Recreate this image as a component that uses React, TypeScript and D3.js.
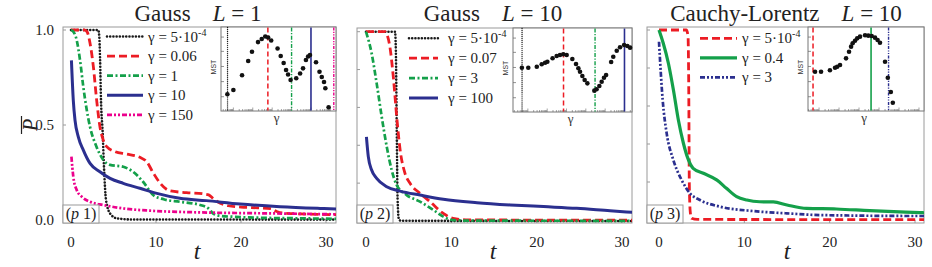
import React from "react";
import * as d3 from "d3";

type Pt = [number, number];

// ---------------- Panel 1: Gauss, L = 1 ----------------
const p1Title = "Gauss";
const p1L = "1";
const p1Legend = ["γ = 5·10", "γ = 0.06", "γ = 1", "γ = 10", "γ = 150"];
const p1LegendSup = ["-4", "", "", "", ""];
const p1GammaLines = [5e-4, 0.06, 1, 10, 150];
const p1Styles = ["dotBlack", "dashRed", "dashdotGreen", "solidBlue", "dddMagenta"];
const p1Black: Pt[] = [[0, 1], [3.2, 1], [3.32, 0.97], [3.42, 0.85], [3.53, 0.63], [3.73, 0.456], [3.88, 0.28], [4.12, 0.105], [4.59, 0.035], [5.37, 0.009], [7, 0.003], [31.2, 0.002]];
const p1Red: Pt[] = [[0, 1], [1.6, 1], [1.9, 0.99], [2.24, 0.93], [2.63, 0.807], [3.02, 0.63], [3.41, 0.49], [3.8, 0.42], [4.2, 0.386], [5.18, 0.36], [6.55, 0.347], [8.1, 0.33], [8.9, 0.307], [9.7, 0.246], [10.5, 0.193], [11.6, 0.154], [13.6, 0.144], [15.5, 0.138], [16.2, 0.132], [16.8, 0.11], [17.5, 0.09], [18.5, 0.075], [20, 0.068], [22, 0.064], [23.5, 0.06], [24.2, 0.045], [25, 0.036], [27, 0.032], [31.2, 0.028]];
const p1Green: Pt[] = [[0, 1], [0.3, 0.99], [0.67, 0.947], [1.06, 0.842], [1.45, 0.7], [1.85, 0.58], [2.24, 0.49], [3.0, 0.386], [3.8, 0.316], [4.6, 0.29], [6.15, 0.28], [7.3, 0.254], [8.5, 0.2], [9.7, 0.13], [10.9, 0.109], [12.8, 0.096], [15.2, 0.079], [16.2, 0.06], [16.7, 0.035], [17.5, 0.022], [19.1, 0.017], [22, 0.012], [26.9, 0.009], [31.2, 0.006]];
const p1Blue: Pt[] = [[0.05, 0.84], [0.27, 0.63], [0.47, 0.526], [0.86, 0.438], [1.45, 0.368], [2.24, 0.298], [3.4, 0.254], [4.6, 0.219], [6.15, 0.193], [8.1, 0.167], [10.1, 0.14], [12.8, 0.114], [15.9, 0.102], [19.9, 0.084], [24.6, 0.07], [29.3, 0.061], [31.2, 0.058]];
const p1Magenta: Pt[] = [[0.05, 0.333], [0.27, 0.228], [0.67, 0.158], [1.26, 0.123], [2.24, 0.096], [3.8, 0.079], [6.15, 0.061], [9.3, 0.049], [15.2, 0.04], [23, 0.035], [31.2, 0.03]];
const p1InsetGamma = [4.9e-4, 1e-3, 2.8e-3, 5.8e-3, 9.1e-3, 0.0186, 0.029, 0.044, 0.062, 0.089, 0.19, 0.275, 0.39, 0.52, 0.66, 0.89, 1.74, 2.75, 3.9, 5.5, 7.1, 8.9, 18.2, 27.5, 36, 47, 55, 81];
const p1InsetMST = [0.2, 0.25, 0.425, 0.595, 0.706, 0.82, 0.857, 0.887, 0.875, 0.84, 0.744, 0.655, 0.571, 0.488, 0.435, 0.369, 0.39, 0.446, 0.508, 0.607, 0.649, 0.667, 0.58, 0.468, 0.405, 0.345, 0.27, 0.044];

// ---------------- Panel 2: Gauss, L = 10 ----------------
const p2Title = "Gauss";
const p2L = "10";
const p2Legend = ["γ = 5·10", "γ = 0.07", "γ = 3", "γ = 100"];
const p2LegendSup = ["-4", "", "", ""];
const p2GammaLines = [5e-4, 0.07, 3, 100];
const p2Styles = ["dotBlack", "dashRed", "dashdotGreen", "solidBlue"];
const p2Black: Pt[] = [[0, 1], [3.4, 1], [3.5, 0.9], [3.6, 0.5], [3.7, 0.12], [3.85, 0.01], [4.1, 0.001], [31.2, 0]];
const p2Red: Pt[] = [[0, 1], [2.2, 1], [2.5, 0.98], [2.8, 0.92], [3.2, 0.762], [3.6, 0.55], [4.0, 0.375], [4.57, 0.252], [5.16, 0.199], [6.33, 0.146], [7.5, 0.102], [9.06, 0.04], [10.2, 0.014], [12, 0.006], [31.2, 0.004]];
const p2Green: Pt[] = [[0, 1], [0.66, 0.886], [1.25, 0.727], [1.84, 0.551], [2.43, 0.393], [3.01, 0.269], [3.6, 0.19], [4.77, 0.137], [6.33, 0.102], [7.9, 0.058], [9.06, 0.023], [10.2, 0.005], [12, 0.002], [31.2, 0.001]];
const p2Blue: Pt[] = [[0.05, 0.445], [0.27, 0.34], [0.66, 0.269], [1.25, 0.225], [2.43, 0.181], [4.0, 0.158], [6.33, 0.137], [9.06, 0.115], [13, 0.097], [16.9, 0.085], [20.8, 0.076], [24.7, 0.067], [28.6, 0.054], [31.2, 0.046]];
const p2InsetGamma = [4.9e-4, 1.05e-3, 2.9e-3, 5.2e-3, 7.8e-3, 0.0102, 0.019, 0.031, 0.046, 0.068, 0.102, 0.2, 0.31, 0.41, 0.5, 0.66, 0.87, 1.2, 2.75, 3.6, 5.0, 6.6, 8.7, 11.2, 20.4, 26.3, 39.8, 58.9, 95.5, 141, 195];
const p2InsetMST = [0.527, 0.527, 0.539, 0.568, 0.587, 0.599, 0.639, 0.667, 0.679, 0.687, 0.679, 0.631, 0.571, 0.52, 0.48, 0.429, 0.381, 0.341, 0.254, 0.27, 0.31, 0.361, 0.408, 0.44, 0.595, 0.658, 0.73, 0.77, 0.798, 0.786, 0.766];

// ---------------- Panel 3: Cauchy-Lorentz, L = 10 ----------------
const p3Title = "Cauchy-Lorentz";
const p3L = "10";
const p3Legend = ["γ = 5·10", "γ = 0.4", "γ = 3"];
const p3LegendSup = ["-4", "", ""];
const p3GammaLines = [5e-4, 0.4, 3];
const p3Styles = ["dashRed", "solidGreen", "dddBlue"];
const p3Red: Pt[] = [[0, 1], [3.2, 1], [3.4, 0.97], [3.5, 0.6], [3.55, 0.2], [3.65, 0.05], [3.8, 0.009], [4.5, 0.003], [31.2, 0.002]];
const p3Green: Pt[] = [[0, 1], [0.5, 0.93], [1.1, 0.825], [1.69, 0.684], [2.27, 0.526], [2.86, 0.404], [3.45, 0.316], [4.0, 0.272], [5.2, 0.246], [6.8, 0.21], [7.9, 0.167], [9.1, 0.123], [10.3, 0.105], [11.8, 0.096], [13.4, 0.095], [15, 0.079], [17.3, 0.061], [20.8, 0.058], [24.7, 0.049], [30.6, 0.039], [31.2, 0.038]];
const p3Blue: Pt[] = [[0, 0.938], [0.43, 0.632], [0.9, 0.456], [1.68, 0.316], [2.66, 0.21], [3.63, 0.14], [4.8, 0.105], [7.15, 0.07], [11.06, 0.047], [14.97, 0.035], [18.9, 0.026], [30.6, 0.021], [31.2, 0.021]];
const p3InsetGamma = [6.3e-4, 1.26e-3, 3.5e-3, 6.3e-3, 8.1e-3, 0.0112, 0.0224, 0.0316, 0.04, 0.048, 0.063, 0.081, 0.112, 0.2, 0.29, 0.43, 0.63, 0.85, 1.12, 2.0, 2.75, 3.9, 4.9];
const p3InsetMST = [0.468, 0.468, 0.485, 0.515, 0.527, 0.548, 0.627, 0.706, 0.766, 0.806, 0.837, 0.865, 0.885, 0.901, 0.897, 0.893, 0.873, 0.845, 0.813, 0.587, 0.396, 0.226, 0.099];

const xTicks = [0, 10, 20, 30];
const yTickLabels = ["0.0", "0.5", "1.0"];
const yTickValues = [0, 0.5, 1];
const yMinorTicks = [0, 0.2, 0.4, 0.6, 0.8, 1];

// ---------------- styling ----------------
const SERIF = "'Liberation Serif', 'Tinos', 'Times New Roman', 'DejaVu Serif', serif";
const SANS = "'Liberation Sans', Arial, sans-serif";

type Sty = { color: string; dash: string; width: number; cap: "round" | "butt"; idash: string; iwidth: number };
const STYLES: Record<string, Sty> = {
  dotBlack: { color: "#1a1a1a", dash: "0.01 3.2", width: 2.6, cap: "round", idash: "0.01 2", iwidth: 1.4 },
  dashRed: { color: "#ec1c24", dash: "8 4", width: 2.8, cap: "butt", idash: "5 3", iwidth: 1.5 },
  dashdotGreen: { color: "#14a04a", dash: "6 2.5 2 2.5", width: 2.7, cap: "butt", idash: "4 1.5 1.2 1.5", iwidth: 1.4 },
  solidBlue: { color: "#2b2f8f", dash: "", width: 3, cap: "butt", idash: "", iwidth: 1.6 },
  dddMagenta: { color: "#ec008c", dash: "5 2 2 2 2 2", width: 2.7, cap: "butt", idash: "3 1.3 1.2 1.3 1.2 1.3", iwidth: 1.4 },
  solidGreen: { color: "#14a04a", dash: "", width: 3.2, cap: "butt", idash: "", iwidth: 1.6 },
  dddBlue: { color: "#2b2f8f", dash: "5 2 2 2 2 2", width: 2.7, cap: "butt", idash: "3 1.3 1.2 1.3 1.2 1.3", iwidth: 1.4 },
};

type Box = { left: number; right: number; top: number; bottom: number };
type PanelCfg = {
  id: number;
  frame: Box;
  y1px: number;
  y0px: number;
  xZeroPx: number;
  xThirtyPx: number;
  inset: Box & { g0: number; g1: number };
  legend: { lx1: number; lx2: number; tx: number; y0: number; dy: number };
  titleCx: number;
  title: string;
  L: string;
  labels: string[];
  sups: string[];
  styles: string[];
  series: Pt[][];
  gammaLines: number[];
  insetG: number[];
  insetM: number[];
  showY: boolean;
  tLabelX: number;
};

const panels: PanelCfg[] = [
  {
    id: 1, frame: { left: 63, right: 336, top: 27, bottom: 223 }, y1px: 30, y0px: 220, xZeroPx: 71, xThirtyPx: 326,
    inset: { left: 221, right: 336, top: 27, bottom: 111, g0: 2.3e-4, g1: 195 },
    legend: { lx1: 107, lx2: 143, tx: 148, y0: 36.5, dy: 19.6 }, titleCx: 198,
    title: p1Title, L: p1L, labels: p1Legend, sups: p1LegendSup, styles: p1Styles,
    series: [p1Black, p1Red, p1Green, p1Blue, p1Magenta], gammaLines: p1GammaLines,
    insetG: p1InsetGamma, insetM: p1InsetMST, showY: true, tLabelX: 197,
  },
  {
    id: 2, frame: { left: 357, right: 632, top: 28, bottom: 223 }, y1px: 31.7, y0px: 221, xZeroPx: 366, xThirtyPx: 622,
    inset: { left: 513, right: 632, top: 28, bottom: 112, g0: 1.7e-4, g1: 245 },
    legend: { lx1: 409, lx2: 438, tx: 448, y0: 38.3, dy: 19.9 }, titleCx: 493,
    title: p2Title, L: p2L, labels: p2Legend, sups: p2LegendSup, styles: p2Styles,
    series: [p2Black, p2Red, p2Green, p2Blue], gammaLines: p2GammaLines,
    insetG: p2InsetGamma, insetM: p2InsetMST, showY: false, tLabelX: 493,
  },
  {
    id: 3, frame: { left: 647, right: 924, top: 27, bottom: 223 }, y1px: 30, y0px: 220, xZeroPx: 659, xThirtyPx: 915,
    inset: { left: 808, right: 924, top: 27, bottom: 111, g0: 2.8e-4, g1: 178 },
    legend: { lx1: 700, lx2: 737, tx: 742, y0: 38.3, dy: 19.5 }, titleCx: 786,
    title: p3Title, L: p3L, labels: p3Legend, sups: p3LegendSup, styles: p3Styles,
    series: [p3Red, p3Green, p3Blue], gammaLines: p3GammaLines,
    insetG: p3InsetGamma, insetM: p3InsetMST, showY: false, tLabelX: 787,
  },
];

function Panel({ c }: { c: PanelCfg }) {
  const f = c.frame;
  const x = d3.scaleLinear().domain([0, 30]).range([c.xZeroPx, c.xThirtyPx]);
  const y = d3.scaleLinear().domain([0, 1]).range([c.y0px, c.y1px]);
  const line = d3.line<Pt>().x((d) => x(d[0])).y((d) => y(d[1])).curve(d3.curveMonotoneX);
  const ins = c.inset;
  const gx = d3.scaleLog().domain([ins.g0, ins.g1]).range([ins.left, ins.right]);
  const my = d3.scaleLinear().domain([0, 1]).range([ins.bottom, ins.top]);
  const clipId = `clip${c.id}`;
  const logTicks: { v: number; major: boolean }[] = [];
  for (let k = -4; k <= 3; k++) {
    for (let m = 1; m <= 9; m++) {
      const v = m * Math.pow(10, k);
      if (v > ins.g0 && v < ins.g1) logTicks.push({ v, major: m === 1 });
    }
  }
  const mstTicks = [0.17, 0.35, 0.53, 0.71, 0.88];
  return (
    <g>
      <defs>
        <clipPath id={clipId}>
          <rect x={f.left} y={f.top} width={f.right - f.left} height={f.bottom - f.top} />
        </clipPath>
      </defs>
      {/* title */}
      <text x={c.titleCx} y={21} textAnchor="middle" fontFamily={SERIF} fontSize={23} fill="#222" style={{ whiteSpace: "pre" }}>
        <tspan>{c.title}</tspan>
        <tspan dx={22} fontStyle="italic">L</tspan>
        <tspan>{" = " + c.L}</tspan>
      </text>
      {/* frame */}
      <rect x={f.left} y={f.top} width={f.right - f.left} height={f.bottom - f.top} fill="#fff" stroke="#9a9a9a" strokeWidth={1} />
      {/* y ticks */}
      {(c.showY ? yTickValues : yMinorTicks).map((v) => (
        <line key={"yt" + v} x1={f.left} x2={f.left + 3} y1={y(v)} y2={y(v)} stroke="#9a9a9a" />
      ))}
      {c.showY &&
        yTickValues.map((v, i) => (
          <text key={"yl" + v} x={54} y={y(v) + 5} textAnchor="end" fontFamily={SERIF} fontSize={15} fill="#222">
            {yTickLabels[i]}
          </text>
        ))}
      {/* x ticks */}
      {xTicks.map((v) => (
        <g key={"xt" + v}>
          <line x1={x(v)} x2={x(v)} y1={f.bottom} y2={f.bottom - 3} stroke="#9a9a9a" />
          <text x={x(v)} y={247} textAnchor="middle" fontFamily={SERIF} fontSize={15} fill="#222">{v}</text>
        </g>
      ))}
      <text x={c.tLabelX} y={259} textAnchor="middle" fontFamily={SERIF} fontStyle="italic" fontSize={24} fill="#222">t</text>
      {/* curves */}
      <g clipPath={`url(#${clipId})`}>
        {c.series.map((s, i) => {
          const st = STYLES[c.styles[i]];
          return (
            <path key={"s" + i} d={line(s) || ""} fill="none" stroke={st.color} strokeWidth={st.width}
              strokeDasharray={st.dash || undefined} strokeLinecap={st.cap} strokeLinejoin="round" />
          );
        })}
      </g>
      {/* (p n) box */}
      <rect x={f.left} y={f.bottom - 18} width={36} height={18} fill="#fff" stroke="#9a9a9a" strokeWidth={1} />
      <text x={f.left + 18} y={f.bottom - 4} textAnchor="middle" fontFamily={SERIF} fontSize={16} fill="#222" style={{ whiteSpace: "pre" }}>
        <tspan>(</tspan><tspan fontStyle="italic">p</tspan><tspan>{" " + c.id + ")"}</tspan>
      </text>
      {/* legend */}
      {c.labels.map((lab, i) => {
        const st = STYLES[c.styles[i]];
        const ly = c.legend.y0 + i * c.legend.dy;
        return (
          <g key={"lg" + i}>
            <line x1={c.legend.lx1} x2={c.legend.lx2} y1={ly} y2={ly} stroke={st.color} strokeWidth={st.width}
              strokeDasharray={st.dash || undefined} strokeLinecap={st.cap} />
            <text x={c.legend.tx} y={ly + 5} fontFamily={SERIF} fontSize={15} fill="#222">
              <tspan>{lab}</tspan>
              {c.sups[i] && <tspan dy={-6} fontSize={10}>{c.sups[i]}</tspan>}
            </text>
          </g>
        );
      })}
      {/* inset */}
      <rect x={ins.left} y={ins.top} width={ins.right - ins.left} height={ins.bottom - ins.top} fill="#fff" stroke="#777" strokeWidth={1} />
      {logTicks.map((t, i) => (
        <line key={"lt" + i} x1={gx(t.v)} x2={gx(t.v)} y1={ins.bottom} y2={ins.bottom - (t.major ? 3.5 : 2)} stroke="#666" strokeWidth={0.6} />
      ))}
      {mstTicks.map((v) => (
        <line key={"mt" + v} x1={ins.left} x2={ins.left + 3} y1={my(v)} y2={my(v)} stroke="#666" strokeWidth={0.7} />
      ))}
      {c.gammaLines.map((g, i) => {
        const st = STYLES[c.styles[i]];
        return (
          <line key={"gl" + i} x1={gx(g)} x2={gx(g)} y1={ins.top + 0.5} y2={ins.bottom - 0.5} stroke={st.color} strokeWidth={st.iwidth}
            strokeDasharray={st.idash || undefined} strokeLinecap={st.cap} />
        );
      })}
      {c.insetG.map((g, i) => (
        <circle key={"d" + i} cx={gx(g)} cy={my(c.insetM[i])} r={2.3} fill="#111" />
      ))}
      <text transform={`translate(${ins.left - 5},${(ins.top + ins.bottom) / 2 - 2}) rotate(-90)`} textAnchor="middle"
        fontFamily={SANS} fontSize={7} fill="#333">MST</text>
      <text x={(ins.left + ins.right) / 2 - 2} y={ins.bottom + 11} textAnchor="middle" fontFamily={SERIF} fontSize={13} fill="#333">γ</text>
    </g>
  );
}

export default function App() {
  return (
    <svg width={932} height={267} viewBox="0 0 932 267" style={{ position: "absolute", left: 0, top: 0, background: "#fff" }}>
      <rect x={0} y={0} width={932} height={267} fill="#fff" />
      {panels.map((p) => (
        <Panel key={p.id} c={p} />
      ))}
      {/* y axis label P-bar */}
      <text transform="translate(37,125) rotate(-90)" textAnchor="middle" fontFamily={SERIF} fontStyle="italic" fontSize={20} fill="#222">P</text>
      <line x1={21.5} x2={21.5} y1={116} y2={134} stroke="#222" strokeWidth={1.2} />
    </svg>
  );
}
